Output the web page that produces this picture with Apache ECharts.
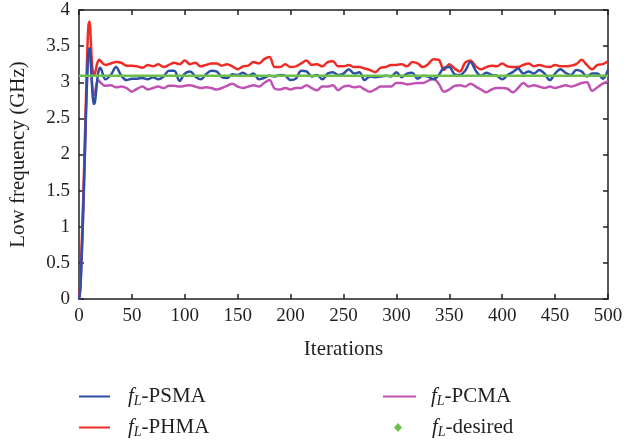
<!DOCTYPE html>
<html>
<head>
<meta charset="utf-8">
<script src="https://cdn.jsdelivr.net/npm/echarts@6/dist/echarts.min.js"></script>
<style>
  html, body { margin: 0; padding: 0; background: #fff; }
  #chart { width: 642px; height: 444px; }
</style>
</head>
<body>
<div id="chart"></div>
<script>
// Iteration indices at which the three algorithms were sampled
const iterations = [
  0, 1, 2, 3, 4, 5, 6, 7, 8, 9, 10, 11, 12, 13, 14, 15, 16, 17, 18, 19, 20,
  25, 30, 35, 40, 45, 50, 55, 60, 65, 70, 75, 80, 85, 90, 95, 100, 105, 110, 115, 120, 125,
  130, 135, 140, 145, 150, 155, 160, 165, 170, 175, 180, 185, 190, 195, 200, 205, 210, 215, 220, 225, 230, 235, 240, 245, 250, 255,
  260, 265, 270, 275, 280, 285, 290, 295, 300, 305, 310, 315, 320, 325, 330, 335, 340, 345, 350, 355, 360, 365, 370, 375, 380,
  385, 390, 395, 400, 405, 410, 415, 420, 425, 430, 435, 440, 445, 450, 455, 460, 465, 470, 475, 480, 485, 490, 495, 500
];

// Low frequency f_L (GHz) per algorithm
const psma = [
  0, 0.1, 0.4, 0.8, 1.25, 1.75, 2.3, 2.8, 3.2, 3.42, 3.47, 3.35, 3.05, 2.8, 2.7, 2.72, 2.85, 3.0, 3.12, 3.18, 3.2,
  3.04, 3.10, 3.21, 3.09, 3.03, 3.05, 3.05, 3.06, 3.04, 3.07, 3.04, 3.08, 3.16, 3.16, 3.02, 3.12, 3.15, 3.08, 3.04, 3.11, 3.16,
  3.15, 3.07, 3.06, 3.11, 3.10, 3.13, 3.09, 3.12, 3.04, 3.06, 3.09, 3.08, 3.10, 3.09, 3.03, 3.05, 3.16, 3.15, 3.08, 3.10, 3.04, 3.12, 3.14, 3.10, 3.12, 3.18,
  3.12, 3.14, 3.03, 3.08, 3.07, 3.08, 3.09, 3.08, 3.14, 3.07, 3.12, 3.13, 3.05, 3.09, 3.08, 3.04, 3.10, 3.20, 3.21, 3.11, 3.10, 3.16, 3.28, 3.16, 3.09,
  3.13, 3.10, 3.09, 3.04, 3.10, 3.14, 3.19, 3.12, 3.15, 3.12, 3.17, 3.12, 3.03, 3.12, 3.18, 3.13, 3.10, 3.17, 3.15, 3.08, 3.12, 3.12, 3.05, 3.17
];
const phma = [
  0, 0.15, 0.5, 0.95, 1.4, 1.9, 2.45, 3.0, 3.5, 3.8, 3.84, 3.62, 3.32, 3.15, 3.1, 3.12, 3.18, 3.25, 3.29, 3.31, 3.3,
  3.24, 3.26, 3.28, 3.27, 3.23, 3.23, 3.22, 3.20, 3.24, 3.22, 3.25, 3.21, 3.24, 3.27, 3.25, 3.30, 3.25, 3.27, 3.22, 3.24, 3.26,
  3.26, 3.23, 3.25, 3.22, 3.18, 3.22, 3.23, 3.28, 3.26, 3.32, 3.35, 3.21, 3.21, 3.25, 3.21, 3.22, 3.26, 3.30, 3.24, 3.25, 3.22, 3.28, 3.29, 3.22, 3.22, 3.24,
  3.21, 3.21, 3.19, 3.17, 3.14, 3.20, 3.21, 3.24, 3.24, 3.25, 3.22, 3.28, 3.26, 3.21, 3.25, 3.32, 3.31, 3.17, 3.25, 3.19, 3.15, 3.27, 3.30, 3.22, 3.18,
  3.21, 3.23, 3.22, 3.26, 3.22, 3.21, 3.21, 3.24, 3.26, 3.22, 3.24, 3.22, 3.21, 3.24, 3.22, 3.22, 3.23, 3.25, 3.31, 3.24, 3.18, 3.24, 3.25, 3.29
];
const pcma = [
  0, 0.1, 0.35, 0.75, 1.2, 1.7, 2.2, 2.75, 3.15, 3.4, 3.45, 3.3, 3.05, 2.87, 2.82, 2.85, 2.93, 3.0, 3.03, 3.02, 3.0,
  2.95, 2.96, 2.93, 2.94, 2.92, 2.87, 2.91, 2.94, 2.90, 2.92, 2.94, 2.92, 2.95, 2.95, 2.94, 2.95, 2.96, 2.94, 2.92, 2.93, 2.92,
  2.90, 2.92, 2.95, 2.98, 2.94, 2.92, 2.94, 2.96, 2.94, 2.99, 3.03, 2.91, 2.90, 2.92, 2.90, 2.92, 2.92, 2.96, 2.92, 2.89, 2.94, 2.94, 2.96, 2.89, 2.94, 2.95,
  2.93, 2.94, 2.90, 2.87, 2.90, 2.94, 2.94, 2.94, 2.99, 2.99, 2.97, 2.98, 2.99, 2.99, 3.02, 3.05, 2.98, 2.87, 2.90, 2.95, 2.96, 2.94, 2.98, 2.94, 2.90,
  2.86, 2.90, 2.92, 2.92, 2.91, 2.86, 2.92, 2.99, 2.94, 2.96, 2.94, 2.92, 2.94, 2.92, 2.94, 2.96, 2.94, 2.96, 2.99, 3.00, 2.88, 2.93, 2.98, 3.01
];

// Target value: constant desired low frequency
const desiredIter = [0, 500];
const desired = [3.09, 3.09];

const legendLabels = {
  'fL-PSMA': '{i|f}{s|L}-PSMA',
  'fL-PHMA': '{i|f}{s|L}-PHMA',
  'fL-PCMA': '{i|f}{s|L}-PCMA',
  'fL-desired': '{i|f}{s|L}-desired'
};

const FONT = 'Liberation Serif';
const INK = '#231f20';
const LEGEND_SIZE = 21;

function pairs(xs, ys) { return xs.map((x, i) => [x, ys[i]]); }

const legendText = (padLeft) => ({
  fontFamily: FONT, fontSize: LEGEND_SIZE, color: INK, padding: [0, 0, 0, padLeft],
  rich: {
    i: { fontFamily: FONT, fontStyle: 'italic', fontSize: LEGEND_SIZE, color: INK },
    s: { fontFamily: FONT, fontStyle: 'italic', fontSize: 14, color: INK, padding: [10, 0, 0, 0] }
  }
});

function legendAt(name, left, top, icon, w, h, padLeft) {
  return {
    data: [{ name: name, icon: icon }],
    left: left, top: top, orient: 'vertical', padding: 0,
    itemWidth: w, itemHeight: h,
    selectedMode: false,
    formatter: (n) => legendLabels[n],
    textStyle: legendText(padLeft)
  };
}

const axisCommon = {
  axisLine: { show: true, onZero: false, lineStyle: { color: INK, width: 1.5 } },
  axisTick: { show: true, inside: true, length: 5, lineStyle: { color: INK, width: 1.5 } },
  splitLine: { show: false }
};

const option = {
  animation: false,
  backgroundColor: '#fff',
  grid: { left: 79, right: 34, top: 10, bottom: 145 },
  legend: [
    legendAt('fL-PSMA', 79, 386, 'rect', 31, 2, 13),
    legendAt('fL-PHMA', 79, 417, 'rect', 31, 2, 13),
    legendAt('fL-PCMA', 383, 386, 'rect', 33, 2, 10),
    legendAt('fL-desired', 394, 417, 'diamond', 8, 9, 25)
  ],
  xAxis: [
    Object.assign({
      type: 'value', min: 0, max: 500, interval: 50, position: 'bottom',
      name: 'Iterations', nameLocation: 'middle', nameGap: 40,
      nameTextStyle: { fontFamily: FONT, fontSize: 21, color: INK },
      axisLabel: { fontFamily: FONT, fontSize: 19, color: INK, margin: 8 }
    }, axisCommon),
    Object.assign({
      type: 'value', min: 0, max: 500, interval: 50, position: 'top',
      axisLabel: { show: false }
    }, axisCommon)
  ],
  yAxis: [
    Object.assign({
      type: 'value', min: 0, max: 4, interval: 0.5, position: 'left',
      name: 'Low frequency (GHz)', nameLocation: 'middle', nameGap: 50,
      nameTextStyle: { fontFamily: FONT, fontSize: 21, color: INK },
      axisLabel: { fontFamily: FONT, fontSize: 19, color: INK, margin: 9 }
    }, axisCommon),
    Object.assign({
      type: 'value', min: 0, max: 4, interval: 0.5, position: 'right',
      axisLabel: { show: false }
    }, axisCommon)
  ],
  series: [
    {
      name: 'fL-PSMA', type: 'line', data: pairs(iterations, psma),
      showSymbol: false, smooth: 0.35, z: 3,
      lineStyle: { color: '#2d4fa5', width: 2.5 }, itemStyle: { color: '#2d4fa5' }
    },
    {
      name: 'fL-PHMA', type: 'line', data: pairs(iterations, phma),
      showSymbol: false, smooth: 0.35, z: 2,
      lineStyle: { color: '#ee2b24', width: 2.5 }, itemStyle: { color: '#ee2b24' }
    },
    {
      name: 'fL-PCMA', type: 'line', data: pairs(iterations, pcma),
      showSymbol: false, smooth: 0.35, z: 2,
      lineStyle: { color: '#c052b4', width: 2.5 }, itemStyle: { color: '#c052b4' }
    },
    {
      name: 'fL-desired', type: 'line', data: pairs(desiredIter, desired),
      showSymbol: false, z: 4,
      lineStyle: { color: '#6cc04a', width: 2.5 }, itemStyle: { color: '#6cc04a' }
    }
  ]
};

const chart = echarts.init(document.getElementById('chart'), null, { renderer: 'canvas' });
chart.setOption(option);
</script>
</body>
</html>
